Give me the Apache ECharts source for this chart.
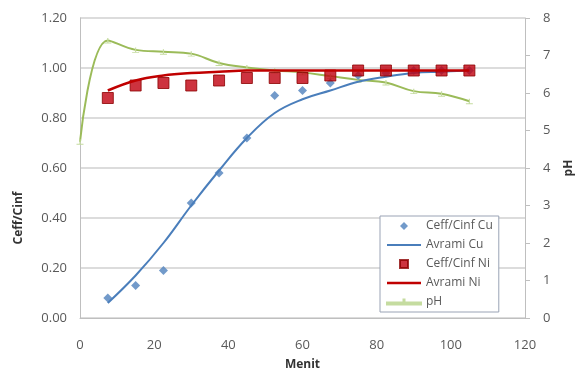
<!DOCTYPE html>
<html>
<head>
<meta charset="utf-8">
<script src="https://cdn.jsdelivr.net/npm/echarts@6/dist/echarts.min.js"></script>
<style>
  html, body { margin: 0; padding: 0; background: #fff; }
  #chart { width: 578px; height: 369px; }
</style>
</head>
<body>
<div id="chart"></div>
<script>
// waktu (menit) untuk titik sampel
var menit = [7.5, 15, 22.5, 30, 37.5, 45, 52.5, 60, 67.5, 75, 82.5, 90, 97.5, 105];
var menitPH = [0, 7.5, 15, 22.5, 30, 37.5, 45, 52.5, 60, 67.5, 75, 82.5, 90, 97.5, 105];

var ceffCu = [0.08, 0.13, 0.19, 0.46, 0.58, 0.72, 0.89, 0.91, 0.94, 0.97, 0.98, 0.99, 0.99, 0.99];
var avramiCu = [0.06, 0.17, 0.30, 0.45, 0.59, 0.72, 0.82, 0.875, 0.91, 0.945, 0.965, 0.98, 0.985, 0.99];
var ceffNi = [0.88, 0.93, 0.94, 0.93, 0.95, 0.96, 0.96, 0.96, 0.97, 0.99, 0.99, 0.99, 0.99, 0.99];
var avramiNi = [0.91, 0.95, 0.97, 0.98, 0.985, 0.99, 0.99, 0.99, 0.99, 0.99, 0.99, 0.99, 0.99, 0.99];
var pH = [4.7, 7.4, 7.15, 7.1, 7.05, 6.8, 6.68, 6.6, 6.55, 6.45, 6.35, 6.28, 6.05, 5.98, 5.78];

function pairs(xs, ys) {
  return xs.map(function (x, i) { return [x, ys[i]]; });
}

var font = 'Open Sans, Noto Sans, sans-serif';
var chart = echarts.init(document.getElementById('chart'));
chart.setOption({
  animation: false,
  backgroundColor: '#fff',
  textStyle: { fontFamily: font },
  grid: { left: 80, right: 53, top: 18, bottom: 51, outerBoundsMode: 'none' },
  legend: {
    orient: 'vertical',
    left: 380, top: 216,
    width: 138,
    padding: [4, 6, 4, 6],
    itemGap: 7,
    itemWidth: 34,
    itemHeight: 8,
    borderColor: '#9aa3b5',
    borderWidth: 1,
    backgroundColor: '#fff',
    textStyle: { fontSize: 12, color: '#595959', fontFamily: font },
    data: [
      { name: 'Ceff/Cinf Cu', icon: 'path://M3,0L6,3L3,6L0,3Z' },
      { name: 'Avrami Cu', icon: 'path://M0,0H34V2H0Z' },
      { name: 'Ceff/Cinf Ni', icon: 'path://M0,0H8V8H0Z' },
      { name: 'Avrami Ni', icon: 'path://M0,0H34V2.5H0Z' },
      { name: 'pH', icon: 'path://M0,6H34V8H0Z M16.5,3H17.5V8H16.5Z' }
    ]
  },
  xAxis: {
    type: 'value',
    min: 0, max: 120, interval: 20,
    name: 'Menit',
    nameLocation: 'middle',
    nameGap: 41,
    nameTextStyle: { fontWeight: 'bold', fontSize: 12, color: '#333' },
    axisLine: { lineStyle: { color: '#bfbfbf' } },
    axisTick: { show: false },
    axisLabel: { fontSize: 13, color: '#595959', margin: 21 },
    splitLine: { show: false }
  },
  yAxis: [
    {
      type: 'value',
      min: 0, max: 1.2, interval: 0.2,
      name: 'Ceff/Cinf',
      nameLocation: 'middle',
      nameGap: 55,
      nameTextStyle: { fontWeight: 'bold', fontSize: 12, color: '#333', padding: [0, 100, 0, 0] },
      axisLine: { show: true, lineStyle: { color: '#bfbfbf' } },
      axisTick: { show: false },
      axisLabel: { fontSize: 13, color: '#595959', margin: 13, formatter: function (v) { return v.toFixed(2); } },
      splitLine: { lineStyle: { color: '#d0d0d0', width: 1.5 } }
    },
    {
      type: 'value',
      min: 0, max: 8, interval: 1,
      name: 'pH',
      nameLocation: 'middle',
      nameGap: 38,
      nameRotate: 90,
      nameTextStyle: { fontWeight: 'bold', fontSize: 12, color: '#333' },
      axisLine: { show: true, lineStyle: { color: '#bfbfbf' } },
      axisTick: { show: true, length: 5, lineStyle: { color: '#bfbfbf' } },
      axisLabel: { fontSize: 13, color: '#595959', margin: 18 },
      splitLine: { show: false }
    }
  ],
  series: [
    {
      name: 'pH',
      type: 'line',
      yAxisIndex: 1,
      smooth: 0.4,
      data: pairs(menitPH, pH),
      symbol: 'path://M0,10L10,10M5,10L5,0',
      symbolSize: [7, 5],
      lineStyle: { color: '#9bbb59', width: 2 },
      itemStyle: { color: '#9bbb59', borderColor: '#c5dca0', borderWidth: 1 },
      z: 1
    },
    {
      name: 'Ceff/Cinf Cu',
      type: 'scatter',
      data: pairs(menit, ceffCu),
      symbol: 'diamond',
      symbolSize: 9,
      itemStyle: { color: '#4f81bd' },
      z: 2
    },
    {
      name: 'Avrami Cu',
      type: 'line',
      smooth: 0.4,
      data: pairs(menit, avramiCu),
      symbol: 'none',
      lineStyle: { color: '#4a7ebb', width: 2 },
      itemStyle: { color: '#4a7ebb' },
      z: 3
    },
    {
      name: 'Ceff/Cinf Ni',
      type: 'scatter',
      data: pairs(menit, ceffNi),
      symbol: 'rect',
      symbolSize: 11,
      itemStyle: { color: '#c0000f', borderColor: '#8b0000', borderWidth: 1 },
      z: 4
    },
    {
      name: 'Avrami Ni',
      type: 'line',
      smooth: 0.4,
      data: pairs(menit, avramiNi),
      symbol: 'none',
      lineStyle: { color: '#c00000', width: 2.5 },
      itemStyle: { color: '#c00000' },
      z: 5
    }
  ]
});
</script>
</body>
</html>
